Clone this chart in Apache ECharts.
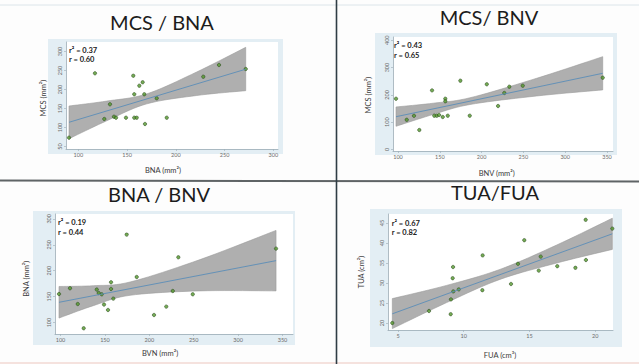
<!DOCTYPE html>
<html>
<head>
<meta charset="utf-8">
<script src="https://cdn.jsdelivr.net/npm/echarts@6/dist/echarts.min.js"></script>
<style>
  html, body { margin: 0; padding: 0; background: #fdfdfd; }
  #main { width: 639px; height: 364px; }
</style>
</head>
<body>
<div id="main"></div>
<script>
// MCS / BNA
var p1X = [90.5, 117.1, 126.7, 132.5, 136.6, 138.7, 148.9, 156.4, 157.4, 157.4, 159.9, 162.6, 166, 167.7, 168.4, 180.4, 190.7, 228.2, 244.3, 271.7];
var p1Y = [73.2, 242.6, 122.4, 161, 128.4, 125.8, 125.8, 236.3, 187.4, 125.8, 125.8, 210, 219, 187.4, 109.2, 176.9, 125.8, 233.7, 264.5, 254];
var p1FitX = [90.5, 271.7];
var p1FitY = [113.7, 253.4];
var p1BandX = [90.5, 129.1, 170.2, 221.4, 271.7];
var p1BandLo = [70.5, 117.6, 162.2, 184.2, 196.9];
var p1BandHi = [156.6, 169.5, 188.4, 246, 311];
var p1XTicks = [100, 150, 200, 250, 300];
var p1YTicks = [50, 100, 150, 200, 250, 300];

// MCS / BNV
var p2X = [97.6, 110.4, 119.1, 125.5, 140.7, 143.4, 146.3, 149.1, 153.5, 156.6, 156.6, 159.5, 174.6, 185.8, 206.2, 219.7, 227.2, 233.2, 249.2, 344.9];
var p2Y = [186, 108.8, 123.4, 71.4, 216.5, 123.8, 123.8, 126.4, 119, 186, 176.5, 123.8, 252, 123.8, 238.8, 159.3, 207, 230, 233.7, 263];
var p2FitX = [97.6, 344.9];
var p2FitY = [120.1, 279.1];
var p2BandX = [97.6, 142.3, 186.1, 265.9, 344.9];
var p2BandLo = [85, 128.6, 164.8, 196, 218.3];
var p2BandHi = [155.7, 169.6, 189.4, 260.8, 339.9];
var p2XTicks = [100, 150, 200, 250, 300, 350];
var p2YTicks = [0, 100, 200, 300, 400];

// BNA / BNV
var p3X = [98.3, 110.7, 119.4, 126.1, 140.8, 143, 146.4, 149, 153.5, 156.9, 156.9, 159.5, 174.5, 185.8, 205.3, 219.1, 226.4, 232.7, 248.9, 342.7];
var p3Y = [155.1, 166.1, 135.8, 89, 163.6, 157, 154.5, 134.7, 124.3, 177.7, 164.8, 146.2, 269.6, 187.9, 114.6, 130.8, 160.9, 225.8, 154.5, 242.6];
var p3FitX = [98.3, 342.7];
var p3FitY = [139.1, 219.4];
var p3BandX = [98.3, 136.9, 178.3, 257.1, 342.7];
var p3BandLo = [108.7, 132.6, 152.6, 161.1, 161.1];
var p3BandHi = [169.6, 171.1, 178.2, 221.4, 277.7];
var p3XTicks = [100, 150, 200, 250, 300, 350];
var p3YTicks = [100, 150, 200, 250, 300];

// TUA / FUA
var p4X = [4.57, 7.36, 9.01, 9.03, 9.16, 9.19, 9.21, 9.62, 11.42, 11.44, 13.6, 14.13, 14.61, 15.71, 15.86, 17.12, 18.5, 19.3, 19.28, 21.31];
var p4Y = [20, 23, 22.2, 25.9, 31.2, 34, 27.9, 28.4, 28.2, 36.9, 29.75, 34.8, 40.7, 33.1, 36.6, 34.2, 33.8, 35.75, 45.8, 43.6];
var p4FitX = [4.57, 21.31];
var p4FitY = [22.3, 42.3];
var p4BandX = [4.57, 8.7, 12.76, 17.08, 21.31];
var p4BandLo = [18.6, 25.1, 30.9, 35, 38.4];
var p4BandHi = [26.1, 29.4, 33.4, 39.5, 46.2];
var p4XTicks = [5, 10, 15, 20];
var p4YTicks = [20, 25, 30, 35, 40, 45];

var titles = ['MCS / BNA', 'MCS/ BNV', 'BNA / BNV', 'TUA/FUA'];
var xNames = ['BNA (mm²)', 'BNV (mm²)', 'BVN (mm²)', 'FUA (cm³)'];
var yNames = ['MCS (mm²)', 'MCS (mm²)', 'BNA (mm²)', 'TUA (cm²)'];
var r2Text = ['r² = 0.37', 'r² = 0.43', 'r² = 0.19', 'r² = 0.67'];
var rText = ['r = 0.60', 'r = 0.65', 'r = 0.44', 'r = 0.82'];

function pairs(xs, ys) {
  return xs.map(function (x, i) { return [x, ys[i]]; });
}

// smooth a run of pixel points (catmull-rom) so the band edge is curved
function spline(pts) {
  var out = [];
  for (var i = 0; i < pts.length - 1; i++) {
    var p0 = pts[Math.max(i - 1, 0)], p1 = pts[i], p2 = pts[i + 1], p3 = pts[Math.min(i + 2, pts.length - 1)];
    for (var s = 0; s < 10; s++) {
      var t = s / 10, t2 = t * t, t3 = t2 * t;
      out.push([
        0.5 * (2 * p1[0] + (-p0[0] + p2[0]) * t + (2 * p0[0] - 5 * p1[0] + 4 * p2[0] - p3[0]) * t2 + (-p0[0] + 3 * p1[0] - 3 * p2[0] + p3[0]) * t3),
        0.5 * (2 * p1[1] + (-p0[1] + p2[1]) * t + (2 * p0[1] - 5 * p1[1] + 4 * p2[1] - p3[1]) * t2 + (-p0[1] + 3 * p1[1] - 3 * p2[1] + p3[1]) * t3)
      ]);
    }
  }
  out.push(pts[pts.length - 1]);
  return out;
}

var axisColor = '#9aabb5';

function xAx(i, min, max, ticks) {
  return {
    gridIndex: i, type: 'value', min: min, max: max,
    axisLine: { onZero: false, lineStyle: { color: axisColor, width: 0.8 } },
    axisTick: { customValues: ticks, length: 2, lineStyle: { color: axisColor, width: 0.6 } },
    axisLabel: { customValues: ticks, fontSize: 5.5, color: '#6b6b6b', margin: 3, fontFamily: 'Lato' },
    splitLine: { show: false }
  };
}
function yAx(i, min, max, ticks) {
  return {
    gridIndex: i, type: 'value', min: min, max: max,
    axisLine: { show: true, onZero: false, lineStyle: { color: axisColor, width: 0.8 } },
    axisTick: { show: true, customValues: ticks, length: 2, lineStyle: { color: axisColor, width: 0.6 } },
    axisLabel: { customValues: ticks, fontSize: 5.5, color: '#6b6b6b', margin: 3, rotate: 90, fontFamily: 'Lato' },
    splitLine: { show: false }
  };
}

function panelSeries(i, xs, ys, fitX, fitY, bandX, bandLo, bandHi) {
  return [
    { type: 'custom', xAxisIndex: i, yAxisIndex: i, data: [0], silent: true,
      renderItem: function (params, api) {
        var up = bandX.map(function (x, k) { return api.coord([x, bandHi[k]]); });
        var lo = bandX.map(function (x, k) { return api.coord([x, bandLo[k]]); });
        var pts = spline(up).concat(spline(lo).reverse());
        return { type: 'polygon', shape: { points: pts },
          style: { fill: '#afafaf', stroke: '#9a9a9a', lineWidth: 0.6 } };
      } },
    { type: 'line', xAxisIndex: i, yAxisIndex: i, symbol: 'none',
      data: pairs(fitX, fitY), lineStyle: { color: '#5b8db8', width: 0.9 } },
    { type: 'scatter', xAxisIndex: i, yAxisIndex: i, symbolSize: 3.4,
      data: pairs(xs, ys),
      itemStyle: { color: '#52962a', borderColor: '#1e3a14', borderWidth: 0.6 } }
  ];
}

var grids = [
  { left: 66, top: 42, width: 212, height: 107 },
  { left: 393, top: 37, width: 220, height: 114 },
  { left: 55, top: 214, width: 238, height: 120 },
  { left: 388, top: 214, width: 225, height: 116 }
].map(function (g) {
  return Object.assign({ show: true, backgroundColor: '#ffffff', borderWidth: 0 }, g);
});

var boxes = [
  [48, 39, 235, 115],
  [375, 33, 242, 122],
  [33, 211, 262, 134],
  [370, 209, 252, 138]
];
var titlePos = [[162, 22], [489, 16.5], [159, 193.5], [495, 192]];
var statPos = [[69, 50, 59], [394, 45, 55], [58, 222.7, 232.7], [391.7, 223.7, 232.7]];
var yNamePos = [[43.3, 98], [368.3, 95], [26, 278.7], [361.7, 272]];
var xNamePos = [[163, 170], [496.7, 173.3], [160, 353.7], [500, 355.3]];

var graphics = [];
boxes.forEach(function (b) {
  graphics.push({ type: 'rect', z: -5, shape: { x: b[0], y: b[1], width: b[2], height: b[3] },
    style: { fill: '#e3eef4' } });
});
// frame lines
graphics.push({ type: 'line', z: -4, shape: { x1: 0, y1: 5, x2: 639, y2: 5 }, style: { stroke: '#dce5ea', lineWidth: 1 } });
graphics.push({ type: 'line', z: -4, shape: { x1: 0, y1: 363, x2: 639, y2: 363 }, style: { stroke: '#f2d9d3', lineWidth: 1.5 } });
graphics.push({ type: 'line', z: 20, shape: { x1: 0, y1: 180.5, x2: 639, y2: 181.5 }, style: { stroke: '#5f6466', lineWidth: 2 } });
graphics.push({ type: 'line', z: 20, shape: { x1: 336.5, y1: 0, x2: 336.5, y2: 364 }, style: { stroke: '#2f3d45', lineWidth: 1.6 } });

for (var i = 0; i < 4; i++) {
  graphics.push({ type: 'text', z: 20, x: titlePos[i][0], y: titlePos[i][1],
    style: { text: titles[i], fontSize: 20, fontFamily: 'Lato', fontWeight: 'normal', fill: '#1c1c1c',
      textAlign: 'center', textVerticalAlign: 'middle' } });
  graphics.push({ type: 'text', z: 20, x: statPos[i][0], y: statPos[i][1],
    style: { text: r2Text[i], fontSize: 7.5, fontFamily: 'Lato', fontWeight: 'bold', fill: '#222',
      textAlign: 'left', textVerticalAlign: 'middle' } });
  graphics.push({ type: 'text', z: 20, x: statPos[i][0], y: statPos[i][2],
    style: { text: rText[i], fontSize: 7.5, fontFamily: 'Lato', fontWeight: 'bold', fill: '#222',
      textAlign: 'left', textVerticalAlign: 'middle' } });
  graphics.push({ type: 'text', z: 20, x: yNamePos[i][0], y: yNamePos[i][1], rotation: Math.PI / 2,
    style: { text: yNames[i], fontSize: 7.5, fontFamily: 'Lato', fill: '#3b3b3b',
      textAlign: 'center', textVerticalAlign: 'middle' } });
  graphics.push({ type: 'text', z: 20, x: xNamePos[i][0], y: xNamePos[i][1],
    style: { text: xNames[i], fontSize: 7.5, fontFamily: 'Lato', fill: '#3b3b3b',
      textAlign: 'center', textVerticalAlign: 'middle' } });
}

var chart = echarts.init(document.getElementById('main'), null, { renderer: 'svg' });
chart.setOption({
  backgroundColor: '#fdfdfd',
  animation: false,
  grid: grids,
  xAxis: [
    xAx(0, 87.4, 304.8, p1XTicks),
    xAx(1, 94, 357.2, p2XTicks),
    xAx(2, 93.8, 361.8, p3XTicks),
    xAx(3, 4.24, 21.36, p4XTicks)
  ],
  yAxis: [
    yAx(0, 43.4, 325, p1YTicks),
    yAx(1, -5.5, 412, p2YTicks),
    yAx(2, 78, 309.3, p3YTicks),
    yAx(3, 18.25, 47.25, p4YTicks)
  ],
  graphic: { elements: graphics },
  series: [].concat(
    panelSeries(0, p1X, p1Y, p1FitX, p1FitY, p1BandX, p1BandLo, p1BandHi),
    panelSeries(1, p2X, p2Y, p2FitX, p2FitY, p2BandX, p2BandLo, p2BandHi),
    panelSeries(2, p3X, p3Y, p3FitX, p3FitY, p3BandX, p3BandLo, p3BandHi),
    panelSeries(3, p4X, p4Y, p4FitX, p4FitY, p4BandX, p4BandLo, p4BandHi)
  )
});
</script>
</body>
</html>
